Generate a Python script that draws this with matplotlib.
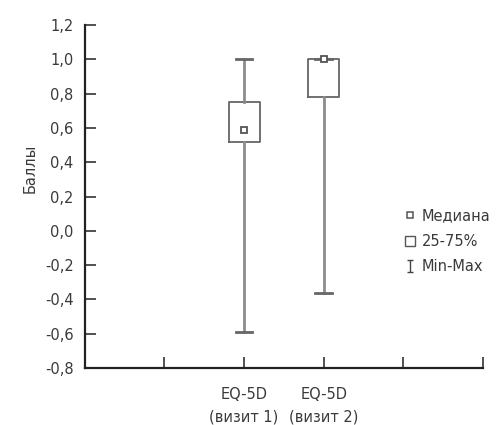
import matplotlib
matplotlib.use("Agg")
import matplotlib.pyplot as plt
from matplotlib.lines import Line2D
from matplotlib.path import Path

plt.rcParams['font.family'] = ['DejaVu Sans']

categories = ["EQ-5D\n(визит 1)", "EQ-5D\n(визит 2)"]
positions = [2, 3]
medians = [0.59, 1.0]
q1 = [0.52, 0.78]
q3 = [0.75, 1.0]
mins = [-0.59, -0.36]
maxs = [1.0, 1.0]
yticks = [-0.8, -0.6, -0.4, -0.2, 0.0, 0.2, 0.4, 0.6, 0.8, 1.0, 1.2]
legend_labels = ["Медиана", "25-75%", "Min-Max"]

txt = '#3a3a3a'
fs = 10.5
fig = plt.figure(figsize=(5.02, 4.25), dpi=100)
ax = fig.add_axes([0.169, 0.134, 0.793, 0.807])

stats = []
for m, a, b, lo, hi in zip(medians, q1, q3, mins, maxs):
    stats.append(dict(med=m, q1=a, q3=b, whislo=lo, whishi=hi, fliers=[]))

ax.bxp(stats, positions=positions, widths=0.39, capwidths=0.21, showfliers=False,
       boxprops=dict(color='#666666', linewidth=1.3),
       whiskerprops=dict(color='#8c8c8c', linewidth=2.0),
       capprops=dict(color='#666666', linewidth=2.0),
       medianprops=dict(linestyle='none'), manage_ticks=False, zorder=2)
ax.plot(positions, medians, linestyle='none', marker='s', markersize=5,
        markerfacecolor='white', markeredgecolor='#555555', markeredgewidth=1.3, zorder=3)

ax.set_xlim(0, 5)
ax.set_ylim(-0.8, 1.2)
ax.set_yticks(yticks)
ax.set_yticklabels([f"{v:.1f}".replace('.', ',') for v in yticks], color=txt, fontsize=fs)
ax.set_xticks([1, 2, 3, 4, 5])
ax.set_xticklabels(["", categories[0], categories[1], "", ""], color=txt, fontsize=fs,
                   linespacing=1.6)
ax.tick_params(axis='y', direction='in', length=8, width=1.2, pad=8, color='#333333')
ax.tick_params(axis='x', direction='in', length=8, width=1.2, pad=14, color='#333333')
for s in ['top', 'right']:
    ax.spines[s].set_visible(False)
for s in ['left', 'bottom']:
    ax.spines[s].set_linewidth(1.6)
    ax.spines[s].set_color('#222222')

ax.set_ylabel("Баллы", color=txt, fontsize=fs)
ax.yaxis.set_label_coords(-0.118, 0.583)

minmax_path = Path([(-0.5, -1), (0.5, -1), (0, -1), (0, 1), (-0.5, 1), (0.5, 1)],
                   [Path.MOVETO, Path.LINETO, Path.MOVETO, Path.LINETO, Path.MOVETO, Path.LINETO])
handles = [
    Line2D([], [], linestyle='none', marker='s', markersize=4, markerfacecolor='white',
           markeredgecolor='#555555', markeredgewidth=1.1),
    Line2D([], [], linestyle='none', marker='s', markersize=7, markerfacecolor='white',
           markeredgecolor='#555555', markeredgewidth=1.0),
    Line2D([], [], linestyle='none', marker=minmax_path, markersize=8,
           markeredgecolor='#444444', markeredgewidth=1.0),
]
leg = fig.legend(handles, legend_labels, loc='upper left', bbox_to_anchor=(0.806, 0.51),
                 frameon=False, fontsize=fs, handlelength=0.8, handletextpad=0.35,
                 labelspacing=0.72, borderpad=0, borderaxespad=0)
for t in leg.get_texts():
    t.set_color(txt)

fig.savefig("out.png", dpi=100)
